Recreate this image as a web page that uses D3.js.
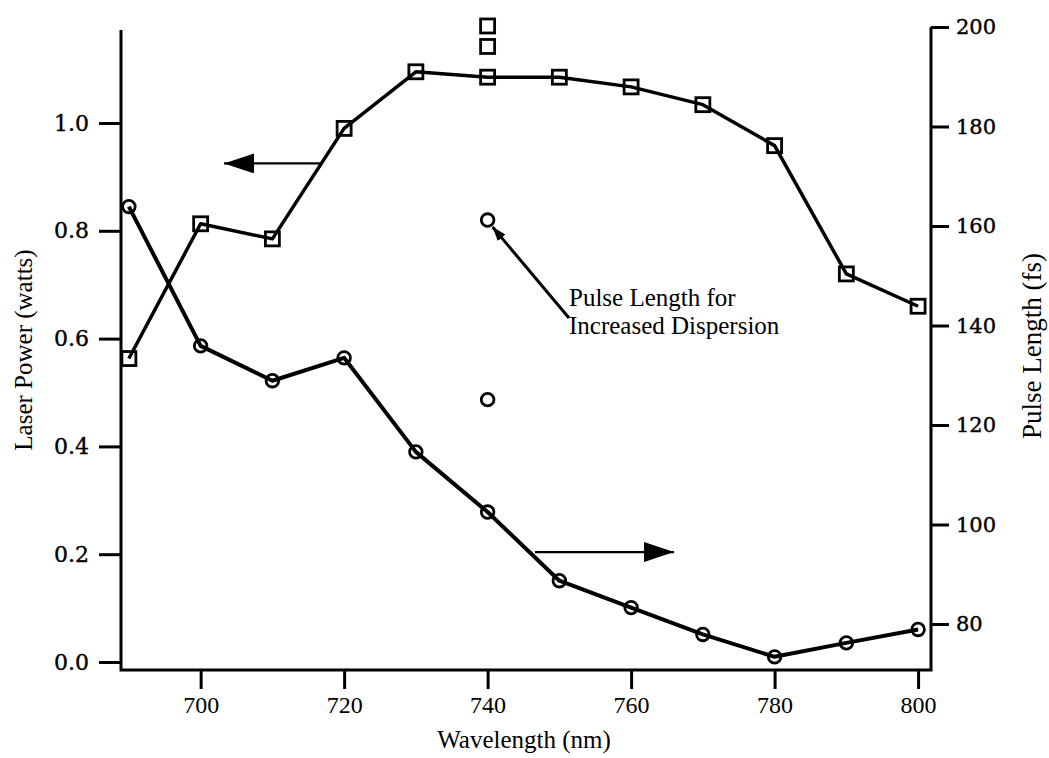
<!DOCTYPE html>
<html>
<head>
<meta charset="utf-8">
<script src="https://cdn.jsdelivr.net/npm/d3@7"></script>
<style>
  html, body { margin: 0; padding: 0; background: #fff; }
  svg { display: block; }
</style>
</head>
<body>
<svg id="chart" width="1049" height="758"></svg>
<script>
// Wavelength sweep of a tunable laser: output power (left axis) and pulse length (right axis)
const wavelengths = [690, 700, 710, 720, 730, 740, 750, 760, 770, 780, 790, 800];
const laserPower  = [0.563, 0.813, 0.785, 0.99, 1.095, 1.085, 1.085, 1.067, 1.034, 0.958, 0.72, 0.66];
const pulseLength = [163.9, 135.9, 128.9, 133.5, 114.6, 102.5, 88.7, 83.3, 77.9, 73.4, 76.2, 78.9];

// additional measurements taken at 740 nm
const extraWavelength = 740;
const extraPower = [1.142, 1.180];
const extraPulse = [161.2, 125.1];   // first one: increased dispersion

const xTicks = [700, 720, 740, 760, 780, 800];
const powerTicks = [0.0, 0.2, 0.4, 0.6, 0.8, 1.0];
const pulseTicks = [80, 100, 120, 140, 160, 180, 200];

const svg = d3.select("#chart");

const frame = { left: 121, right: 931, top: 27, bottom: 670 };

const x = d3.scaleLinear().domain([688.9, 801.8]).range([frame.left, frame.right]);
const yPower = d3.scaleLinear().domain([0, 1]).range([662, 123]);
const yPulse = d3.scaleLinear().domain([80, 200]).range([624, 27]);

const ink = "#000";

// arrowhead markers
const defs = svg.append("defs");
defs.append("marker")
  .attr("id", "head")
  .attr("viewBox", "0 0 30 20")
  .attr("refX", 30).attr("refY", 10)
  .attr("markerWidth", 30).attr("markerHeight", 20)
  .attr("markerUnits", "userSpaceOnUse")
  .attr("orient", "auto")
  .append("path").attr("d", "M0,0 L30,10 L0,20 Z").attr("fill", ink);
defs.append("marker")
  .attr("id", "headSmall")
  .attr("viewBox", "0 0 14 10")
  .attr("refX", 14).attr("refY", 5)
  .attr("markerWidth", 14).attr("markerHeight", 10)
  .attr("markerUnits", "userSpaceOnUse")
  .attr("orient", "auto")
  .append("path").attr("d", "M0,0 L14,5 L0,10 Z").attr("fill", ink);

// frame spines (open top)
svg.append("path")
  .attr("d", `M${frame.left},${frame.top + 3} V${frame.bottom} H${frame.right} V${frame.top}`)
  .attr("fill", "none").attr("stroke", ink).attr("stroke-width", 3)
  .attr("stroke-linejoin", "miter");

// bottom axis
const xAxis = d3.axisBottom(x).tickValues(xTicks).tickSize(19).tickSizeOuter(0).tickPadding(7);
const gx = svg.append("g").attr("transform", `translate(0,${frame.bottom})`).call(xAxis);
gx.select(".domain").remove();
gx.selectAll(".tick line").attr("stroke", ink).attr("stroke-width", 3);
gx.selectAll(".tick text")
  .attr("fill", ink)
  .style("font-family", "'Liberation Serif', 'Times New Roman', serif")
  .style("font-size", "24px");

// left axis (laser power)
const yAxisL = d3.axisLeft(yPower).tickValues(powerTicks).tickFormat(d3.format(".1f"))
  .tickSize(22).tickSizeOuter(0).tickPadding(10);
const gl = svg.append("g").attr("transform", `translate(${frame.left},0)`).call(yAxisL);
gl.select(".domain").remove();
gl.selectAll(".tick line").attr("stroke", ink).attr("stroke-width", 3);
gl.selectAll(".tick text")
  .attr("fill", ink)
  .attr("stroke", ink).attr("stroke-width", 0.4)
  .style("font-family", "'DejaVu Serif', serif")
  .style("font-size", "22px");

// right axis (pulse length)
const yAxisR = d3.axisRight(yPulse).tickValues(pulseTicks)
  .tickSize(18).tickSizeOuter(0).tickPadding(7);
const gr = svg.append("g").attr("transform", `translate(${frame.right},0)`).call(yAxisR);
gr.select(".domain").remove();
gr.selectAll(".tick line").attr("stroke", ink).attr("stroke-width", 3);
gr.selectAll(".tick text")
  .attr("fill", ink)
  .attr("stroke", ink).attr("stroke-width", 0.4)
  .style("font-family", "'DejaVu Serif', serif")
  .style("font-size", "21px");

// axis titles
const titleFont = "'Liberation Serif', 'Times New Roman', serif";
svg.append("text")
  .attr("x", (frame.left + frame.right) / 2 - 2).attr("y", 748)
  .attr("text-anchor", "middle")
  .style("font-family", titleFont).style("font-size", "25px")
  .text("Wavelength (nm)");
svg.append("text")
  .attr("transform", "translate(32,350) rotate(-90)")
  .attr("text-anchor", "middle")
  .style("font-family", titleFont).style("font-size", "25px")
  .text("Laser Power (watts)");
svg.append("text")
  .attr("transform", "translate(1041,346) rotate(-90)")
  .attr("text-anchor", "middle")
  .style("font-family", titleFont).style("font-size", "27px")
  .text("Pulse Length (fs)");

// series lines
const powerPts = wavelengths.map((w, i) => [x(w), yPower(laserPower[i])]);
const pulsePts = wavelengths.map((w, i) => [x(w), yPulse(pulseLength[i])]);
const line = d3.line();

svg.append("path").attr("d", line(powerPts))
  .attr("fill", "none").attr("stroke", ink).attr("stroke-width", 3.5)
  .attr("stroke-linejoin", "round");
svg.append("path").attr("d", line(pulsePts))
  .attr("fill", "none").attr("stroke", ink).attr("stroke-width", 4)
  .attr("stroke-linejoin", "round");

// square markers for power
const sq = 14;
const squares = powerPts.concat(extraPower.map(p => [x(extraWavelength), yPower(p)]));
svg.append("g").selectAll("rect").data(squares).join("rect")
  .attr("x", d => d[0] - sq / 2).attr("y", d => d[1] - sq / 2)
  .attr("width", sq).attr("height", sq)
  .attr("fill", "none").attr("stroke", ink).attr("stroke-width", 2.8);

// circle markers for pulse length
const circles = pulsePts.concat(extraPulse.map(p => [x(extraWavelength), yPulse(p)]));
svg.append("g").selectAll("circle").data(circles).join("circle")
  .attr("cx", d => d[0]).attr("cy", d => d[1]).attr("r", 6.3)
  .attr("fill", "none").attr("stroke", ink).attr("stroke-width", 2.8);

// arrows pointing at the axis each series belongs to
svg.append("line")
  .attr("x1", 320).attr("y1", yPower(0.925)).attr("x2", 224).attr("y2", yPower(0.925))
  .attr("stroke", ink).attr("stroke-width", 2.2).attr("marker-end", "url(#head)");
svg.append("line")
  .attr("x1", 535).attr("y1", yPower(0.204)).attr("x2", 674).attr("y2", yPower(0.204))
  .attr("stroke", ink).attr("stroke-width", 2.2).attr("marker-end", "url(#head)");

// annotation for the increased-dispersion point
const dispPt = [x(extraWavelength), yPulse(extraPulse[0])];
svg.append("line")
  .attr("x1", 569).attr("y1", 318)
  .attr("x2", dispPt[0] + 5).attr("y2", dispPt[1] + 7)
  .attr("stroke", ink).attr("stroke-width", 3).attr("marker-end", "url(#headSmall)");
const note = svg.append("text")
  .style("font-family", titleFont).style("font-size", "25px");
note.append("tspan").attr("x", 569).attr("y", 306).text("Pulse Length for");
note.append("tspan").attr("x", 569).attr("y", 334).text("Increased Dispersion");
</script>
</body>
</html>
